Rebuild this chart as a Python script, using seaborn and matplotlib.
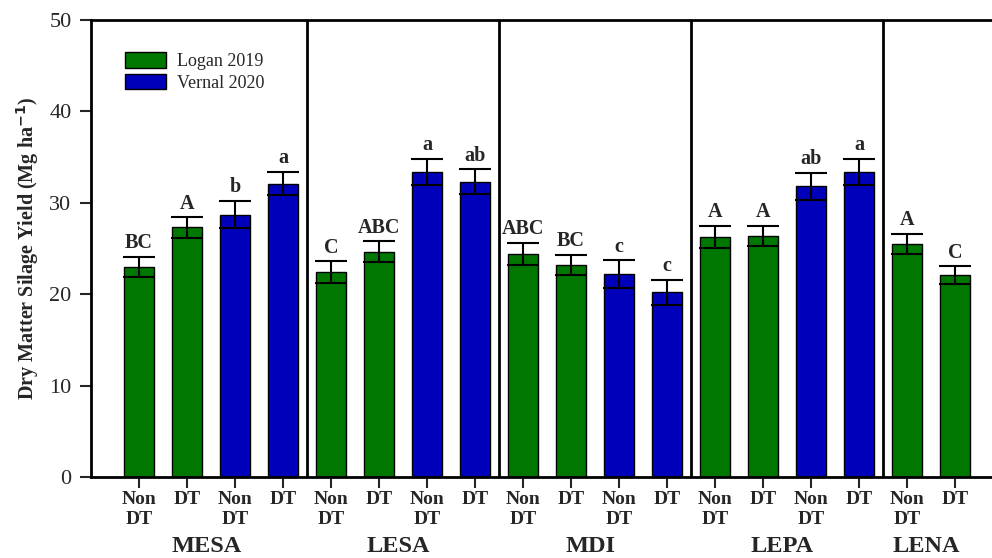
import matplotlib
matplotlib.use("Agg")
import matplotlib.pyplot as plt
import matplotlib.transforms as mtransforms
from matplotlib.patches import Patch
import numpy as np
import pandas as pd
import seaborn as sns

# Hybrids and the bars drawn in each group
hybrids = ["MESA", "LESA", "MDI", "LEPA", "LENA"]
bars_per_hybrid = [4, 4, 4, 4, 2]

# Treatment of each bar (left to right) and its site-year
treatments = ["Non DT", "DT", "Non DT", "DT",
              "Non DT", "DT", "Non DT", "DT",
              "Non DT", "DT", "Non DT", "DT",
              "Non DT", "DT", "Non DT", "DT",
              "Non DT", "DT"]
site_years = ["Logan 2019", "Logan 2019", "Vernal 2020", "Vernal 2020",
              "Logan 2019", "Logan 2019", "Vernal 2020", "Vernal 2020",
              "Logan 2019", "Logan 2019", "Vernal 2020", "Vernal 2020",
              "Logan 2019", "Logan 2019", "Vernal 2020", "Vernal 2020",
              "Logan 2019", "Logan 2019"]

# Dry matter silage yield (Mg/ha) and standard errors
yield_mg = [23.0, 27.3, 28.7, 32.1,
            22.4, 24.65, 33.4, 32.3,
            24.4, 23.2, 22.2, 20.2,
            26.3, 26.4, 31.8, 33.4,
            25.5, 22.1]
std_err = [1.1, 1.1, 1.5, 1.3,
           1.2, 1.15, 1.4, 1.35,
           1.2, 1.1, 1.5, 1.4,
           1.2, 1.1, 1.45, 1.4,
           1.1, 0.95]

# Mean separation letters
letters = ["BC", "A", "b", "a",
           "C", "ABC", "a", "ab",
           "ABC", "BC", "c", "c",
           "A", "A", "ab", "a",
           "A", "C"]

colors = {"Logan 2019": "#007700", "Vernal 2020": "#0000BB"}

hybrid_col = np.repeat(hybrids, bars_per_hybrid)
bar_ids = [f"{h} {t} {s}" for h, t, s in zip(hybrid_col, treatments, site_years)]
df = pd.DataFrame({"bar": bar_ids, "hybrid": hybrid_col, "treatment": treatments,
                   "site_year": site_years, "yield": yield_mg, "se": std_err})

serif = ["Liberation Serif", "DejaVu Serif"]
sns.set_style("ticks")
plt.rcParams["font.family"] = serif

fig = plt.figure(figsize=(9.92, 5.58), dpi=100)
ax = fig.add_axes([91 / 992, 1 - 477 / 558, 1 - 91 / 992, (477 - 20) / 558])

sns.barplot(data=df, x="bar", y="yield", hue="site_year", order=bar_ids,
            palette=colors, saturation=1, dodge=False, width=0.62,
            edgecolor="black", linewidth=1.0, errorbar=None, legend=False, ax=ax)

pos = np.arange(len(bar_ids))
ax.errorbar(pos, df["yield"], yerr=df["se"], fmt="none", ecolor="black",
            elinewidth=1.5, capsize=11.5, capthick=1.5, zorder=5)

for x, v, e, lab in zip(pos, df["yield"], df["se"], letters):
    ax.text(x, v + e + 0.4, lab, ha="center", va="bottom",
            fontsize=14.5, fontweight="bold", family=serif)

# Separators between hybrid groups
edges = np.cumsum(bars_per_hybrid)[:-1] - 0.5
for xe in edges:
    ax.axvline(xe, color="black", lw=2, zorder=6)

ax.set_xlim(-1, 17.77)
ax.set_ylim(0, 50)
ax.set_yticks([0, 10, 20, 30, 40, 50])
ax.tick_params(axis="y", direction="out", length=8, width=1.5, labelsize=16, pad=6)
ax.tick_params(axis="x", direction="out", length=8, width=1.5, pad=2)
ax.set_xticks(pos)
ax.set_xticklabels([t.replace(" ", "\n") for t in treatments], fontsize=14,
                   fontweight="bold", linespacing=1.25)
ax.set_xlabel("")
ax.set_ylabel("Dry Matter Silage Yield (Mg ha$\\mathbf{^{-1}}$)", fontsize=14.5,
              fontweight="bold", labelpad=6)

for side in ["left", "bottom", "top"]:
    ax.spines[side].set_linewidth(2)
    ax.spines[side].set_color("black")
ax.spines["right"].set_visible(False)

# Hybrid names under each group
trans = mtransforms.blended_transform_factory(ax.transData, fig.transFigure)
start = 0
for h, n in zip(hybrids, bars_per_hybrid):
    center = start + (n - 1) / 2
    ax.text(center - 0.1, 1 - 546 / 558, h, transform=trans, ha="center", va="center",
            fontsize=17.5, fontweight="bold", family=serif, clip_on=False)
    start += n

handles = [Patch(facecolor=colors[k], edgecolor="black", label=k) for k in colors]
ax.legend(handles=handles, loc="upper left", bbox_to_anchor=(0.0377, 0.93),
          frameon=False, handlelength=2.3, handleheight=0.95, borderpad=0,
          borderaxespad=0, labelspacing=0.2, handletextpad=0.6,
          prop={"family": serif, "size": 13})

fig.savefig("out.png", dpi=100)
